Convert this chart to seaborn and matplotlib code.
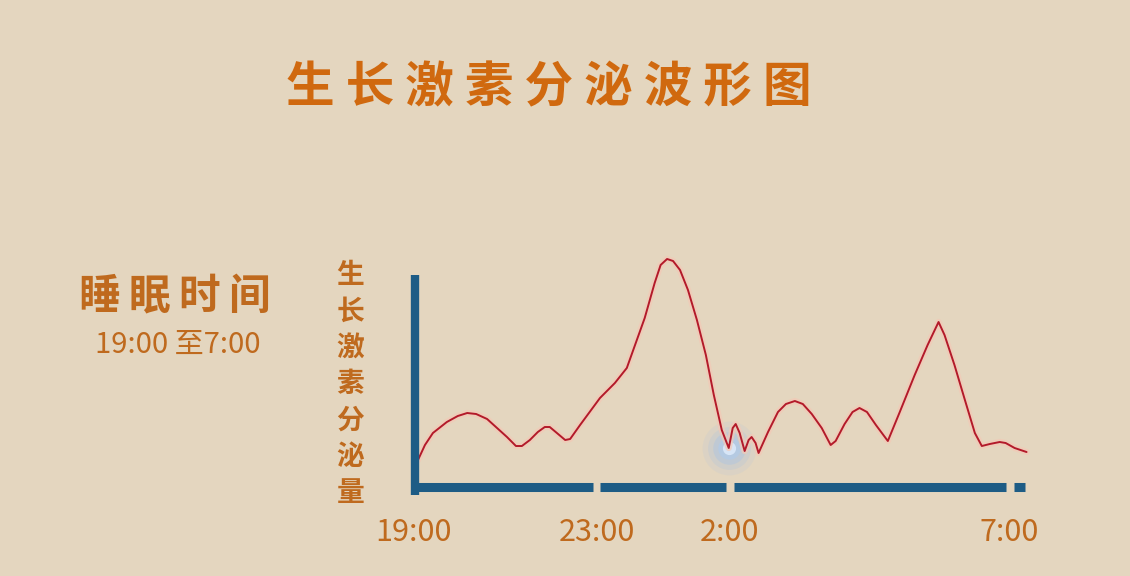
import matplotlib
matplotlib.use("Agg")
import matplotlib.pyplot as plt
import seaborn as sns

# hours after 19:00 and relative secretion level
hours = [0.10, 0.24, 0.40, 0.68, 0.90, 1.09, 1.27, 1.49, 1.69, 1.89,
         2.07, 2.19, 2.35, 2.51, 2.65, 2.75, 2.87, 3.06, 3.16, 3.36,
         3.76, 4.06, 4.30, 4.48, 4.66, 4.86, 4.98, 5.11, 5.23, 5.37,
         5.53, 5.71, 5.89, 6.05, 6.21, 6.35, 6.43, 6.49, 6.57, 6.67,
         6.75, 6.81, 6.89, 6.95, 7.14, 7.34, 7.50, 7.68, 7.84, 8.02,
         8.22, 8.40, 8.50, 8.68, 8.84, 8.98, 9.13, 9.31, 9.55, 9.79,
         10.09, 10.35, 10.57, 10.69, 10.89, 11.10, 11.30, 11.44, 11.60, 11.80,
         11.92, 12.10, 12.34]
levels = [27, 42, 54, 65, 71, 74, 73, 68, 59, 50,
          41, 41, 47, 55, 60, 60, 55, 47, 48, 62,
          89, 104, 119, 144, 169, 204, 222, 228, 226, 217,
          197, 167, 132, 92, 57, 39, 59, 63, 54, 36,
          47, 50, 44, 34, 55, 75, 83, 86, 83, 73,
          59, 42, 46, 63, 75, 79, 75, 62, 46, 75,
          112, 142, 165, 152, 122, 87, 54, 41, 43, 45,
          44, 39, 35]

tick_pos = [0, 3.69, 6.37, 12]
tick_labels = ["19:00", "23:00", "2:00", "7:00"]
glow_idx = 35  # the bright spot on the dip after 2:00

title = "生长激素分泌波形图"
ylabel = "生长激素分泌量"
side_title = "睡眠时间"
side_sub = "19:00 至7:00"

BG = "#E4D6BF"
ORANGE = "#D0690F"
BROWN = "#BF6A1E"
BLUE = "#1D5C85"
RED = "#B31A2A"

sns.set_style("white")
plt.rcParams["font.family"] = ["Noto Sans CJK SC", "DejaVu Sans"]

fig = plt.figure(figsize=(11.3, 5.76), dpi=100, facecolor=BG)
ax = fig.add_axes([0.3611, 0.1406, 0.5522, 0.4306])
ax.set_facecolor(BG)
ax.patch.set_alpha(0)

# blue glow behind the dip
gx, gy = hours[glow_idx], levels[glow_idx]
for s, a, c in [(1500, 0.10, "#8DB8F2"), (950, 0.14, "#86B6F5"),
                (550, 0.22, "#8ABAF8"), (260, 0.38, "#A6CCFB"),
                (90, 0.70, "#E6F1FF")]:
    ax.scatter([gx], [gy], s=s, color=c, alpha=a, linewidths=0, zorder=1)

# curve with a faint light halo underneath
sns.lineplot(x=hours, y=levels, sort=False, estimator=None, ax=ax,
             color="#F3C9B6", linewidth=4.5, alpha=0.7)
sns.lineplot(x=hours, y=levels, sort=False, estimator=None, ax=ax,
             color=RED, linewidth=1.4)

ax.set_xlim(-0.1, 12.45)
ax.set_ylim(-8, 240)

# thick blue axis bars, broken at the ticks
for s in ax.spines.values():
    s.set_visible(False)
ax.plot([0.03, 0.03], [-8, 212], color=BLUE, linewidth=6.0,
        solid_capstyle="butt", clip_on=False)
gap = 0.08
starts = [0] + [t + gap for t in tick_pos[1:]]
ends = [t - gap for t in tick_pos[1:]] + [12.3]
for a, b in zip(starts, ends):
    ax.plot([a, b], [0, 0], color=BLUE, linewidth=6.5,
            solid_capstyle="butt", clip_on=False)

ax.set_xticks(tick_pos)
ax.set_xticklabels(tick_labels, fontsize=22, color=BROWN, fontweight="medium")
ax.tick_params(axis="x", length=0, pad=16)
ax.set_yticks([])
ax.set_xlabel("")
ax.set_ylabel("")

fig.text(0.486, 0.847, " ".join(title), ha="center", va="center",
         fontsize=35, fontweight="bold", color=ORANGE)
fig.text(0.310, 0.333, "\n".join(ylabel), ha="center", va="center",
         fontsize=20, color=BROWN, fontweight="bold", linespacing=1.38)
fig.text(0.155, 0.484, "\u2009".join(side_title), ha="center", va="center",
         fontsize=30, fontweight="bold", color=BROWN,
         family=["Noto Sans CJK SC", "DejaVu Sans"])
fig.text(0.157, 0.401, side_sub, ha="center", va="center",
         fontsize=21, color=BROWN, fontweight="medium")

fig.savefig("out.png", dpi=100, facecolor=BG)
